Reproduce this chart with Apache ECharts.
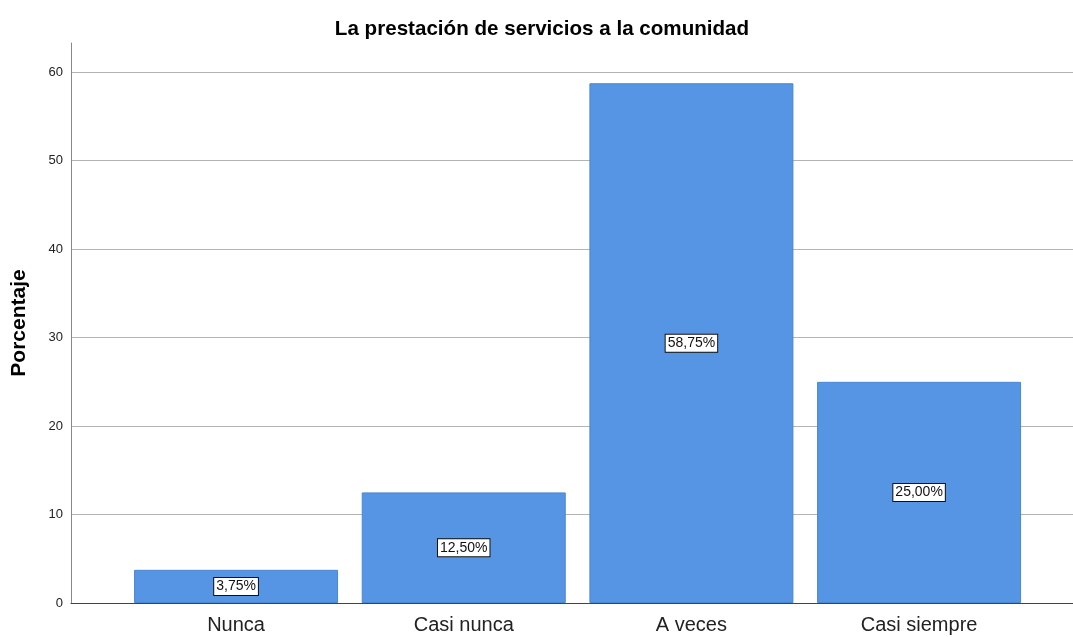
<!DOCTYPE html>
<html>
<head>
<meta charset="utf-8">
<script src="https://cdn.jsdelivr.net/npm/echarts@6/dist/echarts.min.js"></script>
<style>
  html, body { margin: 0; padding: 0; background: #fff; }
  #chart { width: 1073px; height: 637px; }
</style>
</head>
<body>
<div id="chart"></div>
<script>
// categories and percentages
const categories = ['Nunca', 'Casi nunca', 'A veces', 'Casi siempre']
const percentages = [3.75, 12.5, 58.75, 25.0]
const yTicks = [0, 10, 20, 30, 40, 50, 60]

const chart = echarts.init(document.getElementById('chart'))

chart.setOption({
  animation: false,
  title: {
    text: 'La prestación de servicios a la comunidad',
    left: 537,
    top: 14,
    textAlign: 'center',
    textStyle: {
      fontFamily: 'Liberation Sans, Arial',
      fontSize: 20.6,
      fontWeight: 'bold',
      color: '#000'
    }
  },
  grid: {
    left: 71,
    right: 0,
    top: 43,
    bottom: 34,
    outerBoundsMode: 'none'
  },
  xAxis: {
    type: 'value',
    min: 0.275,
    max: 4.676,
    splitLine: { show: false },
    axisTick: { show: false },
    axisLine: { show: true, lineStyle: { color: '#444', width: 1 } },
    axisLabel: {
      customValues: [1, 2, 3, 4],
      formatter: function (v) {
        return categories[Math.round(v) - 1] || ''
      },
      fontFamily: 'Liberation Sans, Arial',
      fontSize: 20,
      color: '#222',
      margin: 12
    }
  },
  yAxis: {
    type: 'value',
    min: 0,
    max: 63.3,
    interval: 10,
    name: 'Porcentaje',
    nameLocation: 'middle',
    nameGap: 41,
    nameTextStyle: {
      fontFamily: 'Liberation Sans, Arial',
      fontSize: 21,
      fontWeight: 'bold',
      color: '#000'
    },
    axisLine: { show: true, lineStyle: { color: '#888', width: 1 } },
    axisTick: { show: false },
    axisLabel: {
      fontFamily: 'Liberation Sans, Arial',
      fontSize: 13,
      color: '#222',
      margin: 8,
      formatter: function (v) {
        return yTicks.indexOf(v) >= 0 ? String(v) : ''
      }
    },
    splitLine: {
      show: true,
      showMinLine: false,
      showMaxLine: false,
      lineStyle: { color: '#b4b4b4', width: 1.2 }
    }
  },
  series: [
    {
      type: 'bar',
      barWidth: 204,
      data: percentages.map((p, i) => [i + 1, p]),
      itemStyle: {
        color: '#5595e3',
        borderColor: '#4a86d2',
        borderWidth: 1
      },
      label: {
        show: true,
        position: 'inside',
        formatter: function (p) {
          return p.value[1].toFixed(2).replace('.', ',') + '%'
        },
        fontFamily: 'Liberation Sans, Arial',
        fontSize: 14,
        color: '#111',
        backgroundColor: '#fff',
        borderColor: '#111',
        borderWidth: 1,
        padding: [2, 2, 1, 2]
      }
    }
  ]
})
</script>
</body>
</html>
